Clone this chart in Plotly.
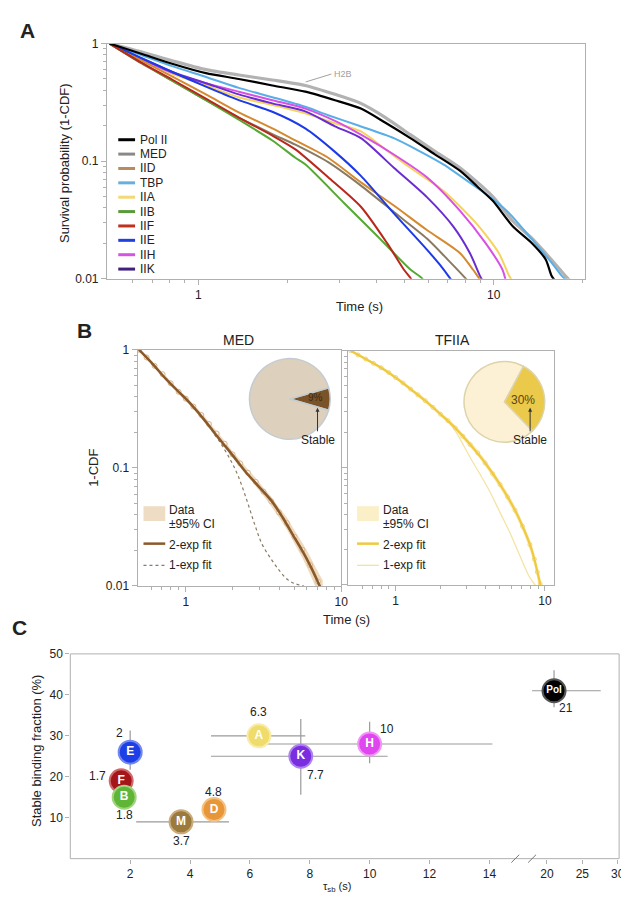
import plotly.graph_objects as go

W, H = 629, 899
FONT = "Liberation Sans, Arial, Helvetica, sans-serif"
INK = "#222222"
AXC = "#b0b0b0"


def px(x):
    return x / W


def py(y):
    return 1 - y / H


# ---------------- Panel A: survival curves (time s, 1-CDF) ----------------
h2b_t = [0.5, 0.64, 0.82, 1.06, 1.37, 1.78, 2.3, 2.9, 3.55, 4.3, 5.22, 6.3, 7.68, 9.93, 11.6, 13.5, 15.0, 17.0, 18.0]
h2b_s = [1.0, 0.85, 0.71, 0.60, 0.54, 0.49, 0.44, 0.37, 0.31, 0.235, 0.168, 0.122, 0.088, 0.050, 0.031, 0.022, 0.0165, 0.0115, 0.0098]
polii_t = [0.5, 0.64, 0.82, 1.06, 1.37, 1.78, 2.3, 2.9, 3.55, 4.3, 5.22, 6.3, 7.68, 8.8, 9.93, 11.6, 13.5, 15.0, 15.7, 16.2]
polii_s = [1.0, 0.82, 0.67, 0.56, 0.50, 0.44, 0.39, 0.33, 0.28, 0.212, 0.157, 0.115, 0.083, 0.061, 0.046, 0.028, 0.020, 0.0146, 0.0106, 0.0095]
tbp_t = [0.5, 0.64, 0.82, 1.06, 1.37, 1.78, 2.3, 2.75, 3.5, 4.59, 5.5, 6.75, 8.73, 10.0, 11.3, 13.5, 15.7, 17.0, 17.8]
tbp_s = [1.0, 0.80, 0.64, 0.52, 0.42, 0.35, 0.29, 0.246, 0.20, 0.157, 0.125, 0.094, 0.060, 0.047, 0.036, 0.0215, 0.0137, 0.0106, 0.0095]
iih_t = [0.5, 0.64, 0.82, 1.06, 1.37, 1.78, 2.3, 2.9, 3.55, 4.59, 5.94, 7.68, 9.4, 10.7, 11.0]
iih_s = [1.0, 0.74, 0.56, 0.46, 0.39, 0.33, 0.28, 0.22, 0.168, 0.114, 0.073, 0.038, 0.020, 0.012, 0.0095]
iia_t = [0.5, 0.64, 0.82, 1.06, 1.37, 1.78, 2.3, 2.9, 3.55, 4.3, 5.22, 6.75, 8.73, 10.4, 11.3, 11.6]
iia_s = [1.0, 0.74, 0.55, 0.44, 0.35, 0.30, 0.255, 0.21, 0.179, 0.126, 0.088, 0.056, 0.0296, 0.0166, 0.0105, 0.0095]
iik_t = [0.5, 0.64, 0.82, 1.06, 1.37, 1.78, 2.3, 2.9, 3.55, 4.59, 5.94, 7.3, 8.3, 9.0, 9.2]
iik_s = [1.0, 0.75, 0.57, 0.46, 0.37, 0.31, 0.265, 0.198, 0.157, 0.088, 0.0495, 0.0278, 0.0166, 0.0105, 0.0095]
iie_t = [0.5, 0.637, 0.82, 1.06, 1.37, 1.78, 2.3, 2.9, 3.55, 4.59, 5.94, 6.6, 7.1, 7.3]
iie_s = [1.0, 0.76, 0.57, 0.43, 0.33, 0.263, 0.19, 0.12, 0.075, 0.036, 0.0177, 0.013, 0.0102, 0.0093]
iid_t = [0.5, 0.64, 0.82, 1.06, 1.37, 1.78, 2.13, 2.75, 3.55, 4.59, 5.94, 7.68, 8.5, 8.9, 9.1]
iid_s = [1.0, 0.72, 0.52, 0.37, 0.26, 0.19, 0.150, 0.107, 0.066, 0.042, 0.026, 0.0166, 0.012, 0.0102, 0.0095]
med_a_t = [0.5, 0.64, 0.82, 1.06, 1.37, 1.78, 2.13, 2.75, 3.55, 4.59, 5.94, 7.0, 8.0, 8.2]
med_a_s = [1.0, 0.68, 0.48, 0.33, 0.235, 0.17, 0.138, 0.098, 0.062, 0.037, 0.022, 0.0145, 0.0102, 0.0095]
iif_t = [0.5, 0.64, 0.82, 1.06, 1.37, 1.78, 2.13, 2.75, 3.55, 4.36, 4.96, 5.22, 5.3]
iif_s = [1.0, 0.69, 0.49, 0.34, 0.235, 0.165, 0.126, 0.073, 0.041, 0.020, 0.012, 0.0102, 0.0095]
iib_t = [0.5, 0.64, 0.82, 1.06, 1.37, 1.78, 2.13, 2.3, 3.13, 4.04, 5.22, 5.7, 5.8]
iib_s = [1.0, 0.69, 0.48, 0.33, 0.225, 0.15, 0.107, 0.094, 0.0435, 0.023, 0.012, 0.0102, 0.0095]

legend_names = ["Pol II", "MED", "IID", "TBP", "IIA", "IIB", "IIF", "IIE", "IIH", "IIK"]

# ---------------- Panel B: MED and TFIIA fits ----------------
med_t = [0.5, 0.56, 0.63, 0.71, 0.8, 0.9, 1.0, 1.12, 1.26, 1.41, 1.58, 1.78, 2.0, 2.24, 2.51, 2.82, 3.16, 3.55, 3.98, 4.47, 5.01, 5.62, 6.31, 7.08, 7.6]
med_s = [1.0, 0.86, 0.73, 0.62, 0.52, 0.44, 0.385, 0.33, 0.28, 0.235, 0.195, 0.16, 0.13, 0.109, 0.091, 0.076, 0.063, 0.052, 0.042, 0.034, 0.026, 0.0202, 0.0150, 0.0109, 0.0090]
med_lo = [0.99, 0.84, 0.71, 0.60, 0.50, 0.425, 0.37, 0.317, 0.268, 0.224, 0.185, 0.151, 0.122, 0.102, 0.085, 0.070, 0.058, 0.047, 0.038, 0.030, 0.0228, 0.0173, 0.0125, 0.0088, 0.0070]
med_hi = [1.0, 0.88, 0.75, 0.64, 0.54, 0.455, 0.40, 0.343, 0.292, 0.246, 0.205, 0.169, 0.138, 0.116, 0.097, 0.082, 0.068, 0.057, 0.046, 0.038, 0.0295, 0.0232, 0.0177, 0.0132, 0.0112]
med_fit2_t = [0.5, 0.6, 0.75, 0.9, 1.05, 1.3, 1.63, 2.0, 2.4, 2.9, 3.54, 4.2, 4.97, 5.6, 6.34, 7.15, 7.6]
med_fit2_s = [1.0, 0.78, 0.56, 0.44, 0.36, 0.26, 0.178, 0.128, 0.094, 0.071, 0.053, 0.038, 0.026, 0.020, 0.0147, 0.0105, 0.0088]
med_fit1_t = [0.5, 0.75, 1.05, 1.3, 1.5, 1.71, 1.95, 2.16, 2.45, 2.77, 3.1, 3.55, 4.0, 4.49, 5.0, 5.75]
med_fit1_s = [1.0, 0.56, 0.36, 0.26, 0.2, 0.155, 0.115, 0.087, 0.055, 0.0335, 0.0225, 0.0168, 0.0135, 0.0114, 0.0105, 0.0100]

tf_t = [0.5, 0.56, 0.63, 0.71, 0.8, 0.9, 1.0, 1.12, 1.26, 1.41, 1.58, 1.78, 2.0, 2.24, 2.51, 2.82, 3.16, 3.55, 3.98, 4.47, 5.01, 5.62, 6.31, 7.08, 7.94, 8.5, 8.9, 9.3, 9.6]
tf_s = [1.0, 0.92, 0.85, 0.78, 0.715, 0.65, 0.59, 0.53, 0.47, 0.42, 0.374, 0.328, 0.287, 0.253, 0.219, 0.186, 0.158, 0.134, 0.110, 0.089, 0.072, 0.0565, 0.0434, 0.0317, 0.0221, 0.0166, 0.0129, 0.0102, 0.0087]
tf_lo = [0.98, 0.90, 0.83, 0.76, 0.695, 0.63, 0.57, 0.51, 0.452, 0.403, 0.358, 0.313, 0.274, 0.241, 0.208, 0.176, 0.149, 0.126, 0.103, 0.083, 0.067, 0.052, 0.040, 0.029, 0.0198, 0.0146, 0.0112, 0.0087, 0.0073]
tf_hi = [1.0, 0.94, 0.87, 0.80, 0.735, 0.67, 0.61, 0.55, 0.488, 0.437, 0.39, 0.343, 0.30, 0.265, 0.23, 0.196, 0.167, 0.142, 0.117, 0.095, 0.077, 0.061, 0.047, 0.0345, 0.0244, 0.0186, 0.0146, 0.0117, 0.0101]
tf_fit2_t = [0.5, 0.63, 0.8, 1.0, 1.26, 1.58, 2.0, 2.51, 3.16, 3.98, 5.01, 6.31, 7.08, 7.94, 8.5, 9.3, 9.8]
tf_fit2_s = [1.0, 0.85, 0.715, 0.59, 0.47, 0.374, 0.287, 0.219, 0.158, 0.110, 0.072, 0.0434, 0.0317, 0.0221, 0.0166, 0.0102, 0.008]
tf_fit1_t = [0.5, 0.875, 1.46, 2.0, 2.42, 2.9, 3.3, 3.7, 4.24, 5.0, 5.75, 6.7, 7.8, 8.6, 9.0]
tf_fit1_s = [1.0, 0.66, 0.40, 0.285, 0.222, 0.149, 0.111, 0.087, 0.064, 0.0417, 0.029, 0.0186, 0.012, 0.0100, 0.0093]

pie_labels = ["Stable", "Transient"]
med_pie = [9, 91]
tf_pie = [30, 70]

# ---------------- Panel C: stable fraction vs tau_sb ----------------
c_labels = ["E", "F", "B", "M", "D", "A", "K", "H"]
c_tau = [2.0, 1.7, 1.8, 3.7, 4.8, 6.3, 7.7, 10.0]
c_frac = [26, 19, 15, 9, 12, 30, 25, 28]
c_tau_err_lo = [0, 0, 0, 1.5, 0, 1.6, 3.0, 3.5]
c_tau_err_hi = [0, 0, 0, 1.6, 0, 1.55, 2.9, 4.1]
c_frac_err_lo = [4.3, 0, 0, 0, 0, 0, 9.4, 4.7]
c_frac_err_hi = [5.3, 0, 0, 0, 0, 0, 9.1, 5.4]
c_value_text = ["2", "1.7", "1.8", "3.7", "4.8", "6.3", "7.7", "10"]
pol_tau = [21]
pol_frac = [41]
pol_tau_err_lo = [3.4]
pol_tau_err_hi = [6.6]
pol_frac_err_lo = [4]
pol_frac_err_hi = [5]

# ---------------- styles ----------------
a_style = {
    "H2B": ("#b2b2b2", 3.2),
    "TBP": ("#5aaee8", 2.0),
    "IIA": ("#f4d35e", 2.0),
    "IIH": ("#d850e6", 2.0),
    "IIK": ("#6a2ed0", 2.0),
    "IID": ("#d58a30", 2.0),
    "MED": ("#8a7a62", 2.0),
    "IIE": ("#1c3ae8", 2.0),
    "IIB": ("#55a832", 2.0),
    "IIF": ("#b8281c", 2.0),
    "Pol II": ("#000000", 2.2),
}
legend_colors = {
    "Pol II": "#000000", "MED": "#8a8a84", "IID": "#b88a5c", "TBP": "#66b0e0",
    "IIA": "#f3d878", "IIB": "#5a9a3a", "IIF": "#c0301e", "IIE": "#2040e0",
    "IIH": "#d455e0", "IIK": "#40207e",
}
c_colors = ["#1f3fe6", "#a4161a", "#5fb536", "#9c7a3c", "#e8963a", "#f0dc6a", "#7a2ee0", "#e046f0"]
c_rims = ["#7088f0", "#d06a6a", "#a0d480", "#c9ab7c", "#f3c180", "#f8eca8", "#ae82ee", "#f094f6"]
c_shift = [(-11, 19), (-24, 5), (0, -18), (0, -19), (0, 18), (0, 24), (15, -19), (17, 15)]

fig = go.Figure()

curves = [
    ("H2B", h2b_t, h2b_s), ("TBP", tbp_t, tbp_s), ("IIA", iia_t, iia_s),
    ("IIH", iih_t, iih_s), ("IIK", iik_t, iik_s), ("IID", iid_t, iid_s),
    ("MED", med_a_t, med_a_s), ("IIE", iie_t, iie_s), ("IIB", iib_t, iib_s),
    ("IIF", iif_t, iif_s), ("Pol II", polii_t, polii_s),
]
for name, t, s in curves:
    col, wd = a_style[name]
    fig.add_trace(go.Scatter(x=t, y=s, mode="lines", name=name,
                             line=dict(color=col, width=wd, shape="spline", smoothing=0.7),
                             xaxis="x", yaxis="y", showlegend=False, hoverinfo="skip"))

# Panel B left (MED)
fig.add_trace(go.Scatter(x=med_t, y=med_hi, mode="lines",
                         line=dict(width=0, color="#eed8bd", shape="spline"),
                         xaxis="x2", yaxis="y2", showlegend=False, hoverinfo="skip"))
fig.add_trace(go.Scatter(x=med_t, y=med_lo, mode="lines",
                         line=dict(width=0, color="#eed8bd", shape="spline"),
                         fill="tonexty", fillcolor="rgba(236,210,178,0.85)",
                         xaxis="x2", yaxis="y2", showlegend=False, hoverinfo="skip"))
fig.add_trace(go.Scatter(x=med_t, y=med_s, mode="markers",
                         marker=dict(size=5, color="#fbf3ea", line=dict(color="#d9b48a", width=1)),
                         xaxis="x2", yaxis="y2", showlegend=False, hoverinfo="skip"))
fig.add_trace(go.Scatter(x=med_fit1_t, y=med_fit1_s, mode="lines",
                         line=dict(color="#8a7a64", width=1.2, dash="dot", shape="spline"),
                         xaxis="x2", yaxis="y2", showlegend=False, hoverinfo="skip"))
fig.add_trace(go.Scatter(x=med_fit2_t, y=med_fit2_s, mode="lines",
                         line=dict(color="#8a5a2a", width=2.6, shape="spline"),
                         xaxis="x2", yaxis="y2", showlegend=False, hoverinfo="skip"))

# Panel B right (TFIIA)
fig.add_trace(go.Scatter(x=tf_t, y=tf_hi, mode="lines",
                         line=dict(width=0, color="#f8ecc0", shape="spline"),
                         xaxis="x3", yaxis="y3", showlegend=False, hoverinfo="skip"))
fig.add_trace(go.Scatter(x=tf_t, y=tf_lo, mode="lines",
                         line=dict(width=0, color="#f8ecc0", shape="spline"),
                         fill="tonexty", fillcolor="rgba(248,234,180,0.9)",
                         xaxis="x3", yaxis="y3", showlegend=False, hoverinfo="skip"))
fig.add_trace(go.Scatter(x=tf_fit1_t, y=tf_fit1_s, mode="lines",
                         line=dict(color="#f4e4a4", width=1.3, shape="spline"),
                         xaxis="x3", yaxis="y3", showlegend=False, hoverinfo="skip"))
fig.add_trace(go.Scatter(x=tf_t, y=tf_s, mode="markers",
                         marker=dict(size=4, color="#fdf6dc", line=dict(color="#f0d880", width=1)),
                         xaxis="x3", yaxis="y3", showlegend=False, hoverinfo="skip"))
fig.add_trace(go.Scatter(x=tf_fit2_t, y=tf_fit2_s, mode="lines",
                         line=dict(color="#efc93e", width=2.2, shape="spline"),
                         xaxis="x3", yaxis="y3", showlegend=False, hoverinfo="skip"))

# Pies
fig.add_trace(go.Pie(values=med_pie, labels=pie_labels, sort=False, direction="clockwise",
                     rotation=74, textinfo="none", hoverinfo="skip", showlegend=False,
                     marker=dict(colors=["#7a5428", "#ddd0bd"], line=dict(color="#c4ccd2", width=1.5)),
                     domain=dict(x=[px(244), px(326)], y=[py(431), py(349)])))
fig.add_trace(go.Pie(values=tf_pie, labels=pie_labels, sort=False, direction="clockwise",
                     rotation=28, textinfo="none", hoverinfo="skip", showlegend=False,
                     marker=dict(colors=["#ebc94a", "#fcf1d4"], line=dict(color="#ddd3a8", width=1.5)),
                     domain=dict(x=[px(461), px(543)], y=[py(434), py(352)])))

# Panel C
fig.add_trace(go.Scatter(
    x=c_tau, y=c_frac, mode="markers+text", text=c_labels, textposition="middle center",
    textfont=dict(family=FONT, size=12, color="white", weight="bold"),
    marker=dict(size=23, color=c_colors, line=dict(color=c_rims, width=2)),
    error_x=dict(type="data", symmetric=False, array=c_tau_err_hi, arrayminus=c_tau_err_lo,
                 color="#9a9a9a", thickness=1.2, width=0),
    error_y=dict(type="data", symmetric=False, array=c_frac_err_hi, arrayminus=c_frac_err_lo,
                 color="#9a9a9a", thickness=1.2, width=0),
    xaxis="x4", yaxis="y4", showlegend=False, hoverinfo="skip"))
fig.add_trace(go.Scatter(
    x=pol_tau, y=pol_frac, mode="markers+text", text=["Pol"], textposition="middle center",
    textfont=dict(family=FONT, size=10, color="white", weight="bold"),
    marker=dict(size=23, color="#000000", line=dict(color="#555555", width=2)),
    error_x=dict(type="data", symmetric=False, array=pol_tau_err_hi, arrayminus=pol_tau_err_lo,
                 color="#9a9a9a", thickness=1.2, width=0),
    error_y=dict(type="data", symmetric=False, array=pol_frac_err_hi, arrayminus=pol_frac_err_lo,
                 color="#9a9a9a", thickness=1.2, width=0),
    xaxis="x5", yaxis="y4", showlegend=False, hoverinfo="skip"))

tickfont = dict(family=FONT, size=12, color=INK)
minor_a = [0.6, 0.7, 0.8, 0.9, 2, 3, 4, 5, 6, 7, 8, 9, 20]
minor_y = [0.02, 0.03, 0.04, 0.05, 0.06, 0.07, 0.08, 0.09, 0.2, 0.3, 0.4, 0.5, 0.6, 0.7, 0.8, 0.9]


def log_axis(domain, rng, tickvals, ticktext, anchor, minor_vals, show=True):
    return dict(type="log", domain=domain, range=rng, anchor=anchor,
                showline=True, linecolor=AXC, linewidth=1, mirror=True,
                ticks="outside", ticklen=5, tickcolor=AXC,
                tickmode="array", tickvals=tickvals, ticktext=ticktext,
                showticklabels=show, tickfont=tickfont,
                minor=dict(tickmode="array", tickvals=minor_vals, ticks="outside",
                           ticklen=3, tickcolor=AXC, showgrid=False),
                showgrid=False, zeroline=False)


fig.update_layout(
    width=W, height=H, autosize=False,
    margin=dict(l=0, r=0, t=0, b=0),
    paper_bgcolor="white", plot_bgcolor="white",
    font=dict(family=FONT, color=INK),
    xaxis=log_axis([px(100), px(583)], [-0.31, 1.3075], [1, 10], ["1", "10"], "y", minor_a),
    yaxis=log_axis([py(268), py(29)], [-2, 0], [0.01, 0.1, 1], ["0.01", "0.1", "1"], "x", minor_y),
    xaxis2=log_axis([px(131), px(337)], [-0.31, 1.0], [1, 10], ["1", "10"], "y2", minor_a),
    yaxis2=log_axis([py(580), py(340)], [-2, 0], [0.01, 0.1, 1], ["0.01", "0.1", "1"], "x2", minor_y),
    xaxis3=log_axis([px(344), px(552)], [-0.318, 1.06], [1, 10], ["1", "10"], "y3", minor_a),
    yaxis3=log_axis([py(579), py(341)], [-2, 0], [0.01, 0.1, 1], ["0.01", "0.1", "1"], "x3", minor_y, show=False),
    xaxis4=dict(domain=[px(63), px(521)], range=[0, 15.13], anchor="y4", showline=False,
                ticks="outside", ticklen=4, tickcolor=AXC, tickmode="array",
                tickvals=[2, 4, 6, 8, 10, 12, 14], tickfont=tickfont, showgrid=False, zeroline=False),
    xaxis5=dict(domain=[px(530), px(618)], range=[17.9, 30.2], anchor="y4", showline=False,
                ticks="outside", ticklen=4, tickcolor=AXC, tickmode="array",
                tickvals=[20, 25, 30], tickfont=tickfont, showgrid=False, zeroline=False),
    yaxis4=dict(domain=[py(857), py(649)], range=[0, 50], anchor="x4", showline=False,
                ticks="outside", ticklen=4, tickcolor=AXC, tickmode="array",
                tickvals=[10, 20, 30, 40, 50], tickfont=tickfont, showgrid=False, zeroline=False),
)

shapes = []
annotations = []


def ann(x, y, text, size=12, color=INK, xanchor="center", bold=False, angle=0, **kw):
    t = "<b>%s</b>" % text if bold else text
    d = dict(x=px(x), y=py(y), xref="paper", yref="paper", text=t, showarrow=False,
             xanchor=xanchor, yanchor="middle", textangle=angle,
             font=dict(family=FONT, size=size, color=color))
    d.update(kw)
    annotations.append(d)


# panel letters
ann(20, 16, "A", size=21, bold=True)
ann(77, 320, "B", size=21, bold=True)
ann(12, 622, "C", size=21, bold=True)

# panel A titles and legend
ann(57, 150, "Survival probability (1-CDF)", size=13, angle=-90)
ann(355, 296, "Time (s)", size=13)
for i, name in enumerate(legend_names):
    yy = 126.7 + i * 14.6
    shapes.append(dict(type="line", xref="paper", yref="paper", x0=px(111.5), x1=px(128.5),
                       y0=py(yy), y1=py(yy), line=dict(color=legend_colors[name], width=3)))
    ann(131, yy, name, size=12, xanchor="left")
shapes.append(dict(type="line", xref="paper", yref="paper", x0=px(301), y0=py(68), x1=px(327), y1=py(60),
                   line=dict(color="#a0a0a0", width=1)))
ann(328, 60, "H2B", size=9, color="#a0a0a0", xanchor="left")

# panel B titles and legends
ann(233, 330, "MED", size=14)
ann(450, 330, "TFIIA", size=14)
ann(87, 460, "1-CDF", size=13, angle=-90)
ann(342, 614, "Time (s)", size=13)
for x0, band, fit2, fit1, dash in [(137, "#efdcc4", "#8a5a2a", "#8a7a64", "dot"),
                                   (353, "#faefc6", "#efc93e", "#f1e09a", "solid")]:
    shapes.append(dict(type="rect", xref="paper", yref="paper", x0=px(x0), x1=px(x0 + 22),
                       y0=py(514), y1=py(499), fillcolor=band, line=dict(width=0)))
    shapes.append(dict(type="line", xref="paper", yref="paper", x0=px(x0), x1=px(x0 + 22),
                       y0=py(537), y1=py(537), line=dict(color=fit2, width=2.5)))
    shapes.append(dict(type="line", xref="paper", yref="paper", x0=px(x0), x1=px(x0 + 22),
                       y0=py(559), y1=py(559), line=dict(color=fit1, width=1.2, dash=dash)))
    ann(x0 + 24, 503, "Data", size=12, xanchor="left")
    ann(x0 + 24, 517, "±95% CI", size=12, xanchor="left")
    ann(x0 + 24, 538, "2-exp fit", size=12, xanchor="left")
    ann(x0 + 24, 559, "1-exp fit", size=12, xanchor="left")

ann(311, 389, "9%", size=10, color="#3b2a14")
ann(521, 391, "30%", size=12, color="#5a4810")
for xs in (313, 528):
    annotations.append(dict(x=px(xs), y=py(399), xref="paper", yref="paper", text="Stable",
                            showarrow=True, arrowhead=2, arrowsize=0.8, arrowwidth=1,
                            arrowcolor="#333333", ax=0, ay=32,
                            font=dict(family=FONT, size=12, color=INK)))

# panel C frame, break marks, titles, value labels
shapes.append(dict(type="rect", xref="paper", yref="paper", x0=px(63), x1=px(618),
                   y0=py(857), y1=py(649), line=dict(color=AXC, width=1)))
for bx in (513, 530):
    shapes.append(dict(type="line", xref="paper", yref="paper", x0=px(bx - 4), x1=px(bx + 4),
                       y0=py(861), y1=py(853), line=dict(color="#777777", width=1)))
ann(29, 748, "Stable binding fraction (%)", size=13, angle=-90)
ann(333, 886, "τ<sub>sb</sub> (s)", size=11)
for i, txt in enumerate(c_value_text):
    dx, dy = c_shift[i]
    annotations.append(dict(x=c_tau[i], y=c_frac[i], xref="x4", yref="y4", text=txt,
                            showarrow=False, xshift=dx, yshift=dy,
                            font=dict(family=FONT, size=12, color=INK)))
annotations.append(dict(x=pol_tau[0], y=pol_frac[0], xref="x5", yref="y4", text="21",
                        showarrow=False, xshift=12, yshift=-17,
                        font=dict(family=FONT, size=12, color=INK)))

fig.update_layout(shapes=shapes, annotations=annotations)
fig.write_html("out.html")
